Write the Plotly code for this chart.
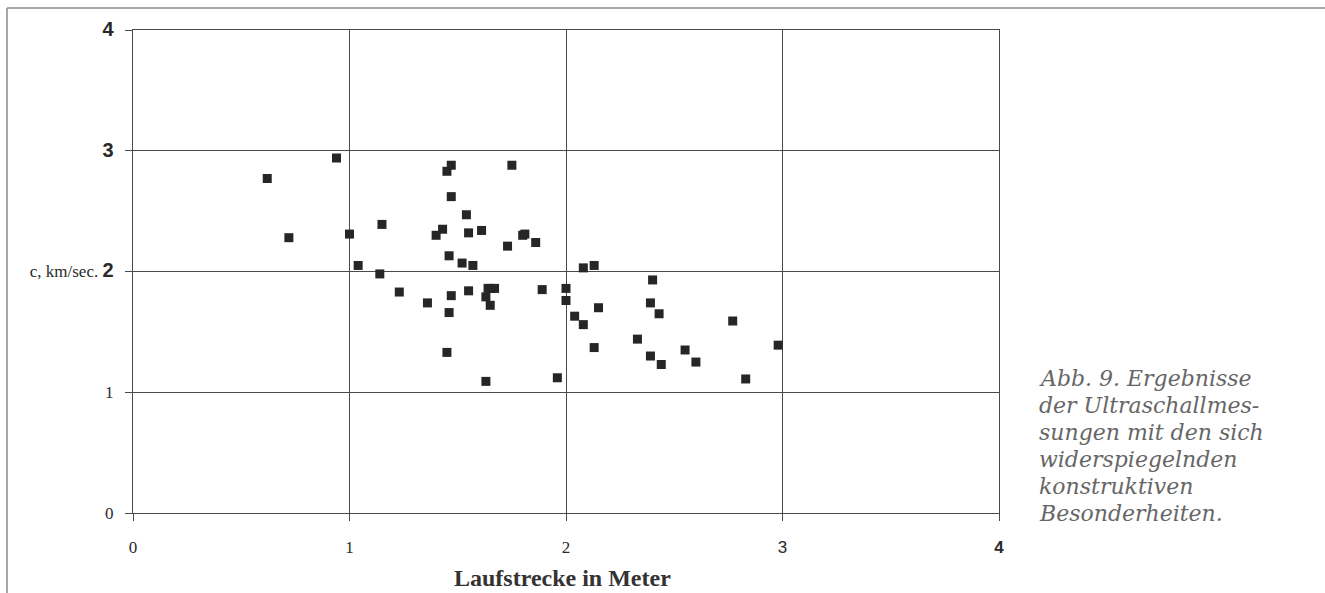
import plotly.graph_objects as go

# Laufstrecke in Meter (x) and c, km/sec. (y)
laufstrecke = [0.62, 0.94, 0.72, 1.00, 1.15, 1.04, 1.14, 1.23, 1.36, 1.40, 1.43,
               1.45, 1.46, 1.47, 1.47, 1.47, 1.45, 1.46, 1.52, 1.54, 1.55, 1.55,
               1.57, 1.61, 1.63, 1.64, 1.65, 1.67, 1.63, 1.65, 1.73, 1.75, 1.80,
               1.81, 1.86, 1.89, 1.96, 2.00, 2.00, 2.04, 2.08, 2.08, 2.13, 2.13,
               2.15, 2.33, 2.39, 2.39, 2.40, 2.43, 2.44, 2.55, 2.60, 2.77, 2.83,
               2.98]
geschwindigkeit = [2.77, 2.94, 2.28, 2.31, 2.39, 2.05, 1.98, 1.83, 1.74, 2.30, 2.35,
                   2.83, 2.13, 2.88, 2.62, 1.80, 1.33, 1.66, 2.07, 2.47, 2.32, 1.84,
                   2.05, 2.34, 1.79, 1.86, 1.72, 1.86, 1.09, 1.86, 2.21, 2.88, 2.30,
                   2.31, 2.24, 1.85, 1.12, 1.86, 1.76, 1.63, 1.56, 2.03, 2.05, 1.37,
                   1.70, 1.44, 1.74, 1.30, 1.93, 1.65, 1.23, 1.35, 1.25, 1.59, 1.11,
                   1.39]

x_ticks = [0, 1, 2, 3, 4]
x_ticktext = ["0", "1", "2",
              '<span style="font-family:Liberation Sans">3</span>',
              '<span style="font-family:Liberation Sans"><b>4</b></span>']
y_ticks = [0, 1, 2, 3, 4]
y_ticktext = ["0", "1",
              'c, km/sec. <span style="font-family:Liberation Sans;font-size:20px"><b>2</b></span>',
              '<span style="font-family:Liberation Sans;font-size:20px"><b>3</b></span>',
              '<span style="font-family:Liberation Sans;font-size:20px"><b>4</b></span>']

caption_lines = ["Abb. 9. Ergebnisse", "der Ultraschallmes-", "sungen mit den sich",
                 "widerspiegelnden", "konstruktiven", "Besonderheiten."]

W, H = 1325, 593
L, R, T, B = 133, 999, 30, 513

fig = go.Figure()
fig.add_trace(go.Scatter(
    x=laufstrecke, y=geschwindigkeit, mode="markers",
    marker=dict(symbol="square", size=9, color="#262626"),
    showlegend=False, hoverinfo="x+y"))

axis_common = dict(
    range=[0, 4], showgrid=True, gridcolor="#4a4a4a", gridwidth=1,
    showline=True, linecolor="#4a4a4a", linewidth=1, mirror=True,
    ticks="outside", ticklen=7, tickcolor="#4a4a4a", tickwidth=1,
    zeroline=False, tickmode="array")

fig.update_xaxes(**axis_common, tickvals=x_ticks, ticktext=x_ticktext,
                 ticklabelstandoff=12,
                 tickfont=dict(family="Liberation Serif", size=17, color="#2a2a2a"))
fig.update_yaxes(**axis_common, tickvals=y_ticks, ticktext=y_ticktext,
                 ticklabelstandoff=8,
                 tickfont=dict(family="Liberation Serif", size=17, color="#2a2a2a"))

def px_x(px):
    return (px - L) / (R - L)

def px_y(py):
    return (B - py) / (B - T)

# scanned page frame lines
fig.add_shape(type="line", xref="paper", yref="paper",
              x0=px_x(7), x1=px_x(1325), y0=px_y(8), y1=px_y(8),
              line=dict(color="#8a8a8a", width=1.5))
fig.add_shape(type="line", xref="paper", yref="paper",
              x0=px_x(7), x1=px_x(7), y0=px_y(8), y1=px_y(593),
              line=dict(color="#8a8a8a", width=1.5))

# axis title
fig.add_annotation(text="<b>Laufstrecke in Meter</b>", xref="paper", yref="paper",
                   x=px_x(562), y=px_y(578), xanchor="center", yanchor="middle",
                   showarrow=False,
                   font=dict(family="Liberation Serif", size=24, color="#333333"))

# caption
for i, line in enumerate(caption_lines):
    fig.add_annotation(text="<i>" + line + "</i>", xref="paper", yref="paper",
                       x=px_x(1038), y=px_y(378 + 27 * i), xanchor="left",
                       yanchor="middle", showarrow=False, borderpad=0,
                       font=dict(family="DejaVu Serif", size=22, color="#666666"))

fig.update_layout(
    width=W, height=H, autosize=False,
    margin=dict(l=L, r=W - R, t=T, b=H - B, pad=0),
    paper_bgcolor="white", plot_bgcolor="white")

fig.write_html("out.html")
